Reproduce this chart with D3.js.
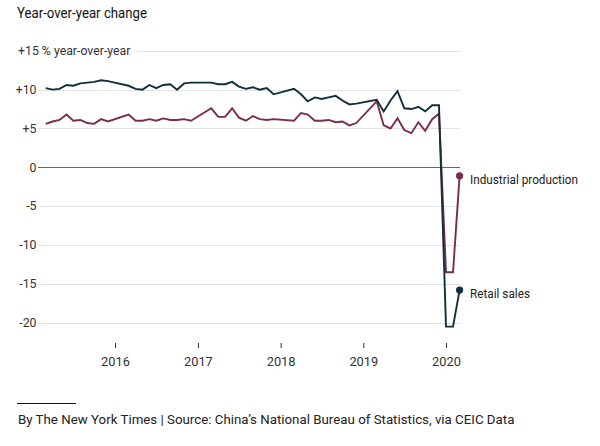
<!DOCTYPE html>
<html>
<head>
<meta charset="utf-8">
<script src="https://cdn.jsdelivr.net/npm/d3@7"></script>
<style>
  html, body { margin: 0; padding: 0; background: #fff; }
  svg { display: block; font-family: Roboto, "Liberation Sans", sans-serif; }
</style>
</head>
<body>
<svg id="chart" width="600" height="446"></svg>
<script>
// ---- Data (monthly, year-over-year %) ----
const months = [
  "2015-03","2015-04","2015-05","2015-06","2015-07","2015-08","2015-09","2015-10","2015-11","2015-12",
  "2016-03","2016-04","2016-05","2016-06","2016-07","2016-08","2016-09","2016-10","2016-11","2016-12",
  "2017-03","2017-04","2017-05","2017-06","2017-07","2017-08","2017-09","2017-10","2017-11","2017-12",
  "2018-03","2018-04","2018-05","2018-06","2018-07","2018-08","2018-09","2018-10","2018-11","2018-12",
  "2019-03","2019-04","2019-05","2019-06","2019-07","2019-08","2019-09","2019-10","2019-11","2019-12",
  "2020-01","2020-02","2020-03"
];
const retailSales = [
  10.2,10.0,10.1,10.6,10.5,10.8,10.9,11.0,11.2,11.1,
  10.5,10.1,10.0,10.6,10.2,10.6,10.7,10.0,10.8,10.9,
  10.9,10.7,10.7,11.0,10.4,10.1,10.3,10.0,10.2,9.4,
  10.1,9.4,8.5,9.0,8.8,9.0,9.2,8.6,8.1,8.2,
  8.7,7.2,8.6,9.8,7.6,7.5,7.8,7.2,8.0,8.0,
  -20.5,-20.5,-15.8
];
const industrialProduction = [
  5.6,5.9,6.1,6.8,6.0,6.1,5.7,5.6,6.2,5.9,
  6.8,6.0,6.0,6.2,6.0,6.3,6.1,6.1,6.2,6.0,
  7.6,6.5,6.5,7.6,6.4,6.0,6.6,6.2,6.1,6.2,
  6.0,7.0,6.8,6.0,6.0,6.1,5.8,5.9,5.4,5.7,
  8.5,5.4,5.0,6.3,4.8,4.4,5.8,4.7,6.2,6.9,
  -13.5,-13.5,-1.1
];
const yTicks = [15, 10, 5, 0, -5, -10, -15, -20];
const yTickLabels = ["+15", "+10", "+5", "0", "-5", "-10", "-15", "-20"];
const xTickYears = [2016, 2017, 2018, 2019, 2020];
const seriesNames = ["Industrial production", "Retail sales"];
const titleText = "Year-over-year change";
const yUnitText = " % year-over-year";
const sourceText = "By The New York Times | Source: China\u2019s National Bureau of Statistics, via CEIC Data";

// ---- Setup ----
const svg = d3.select("#chart");
const parse = d3.timeParse("%Y-%m");
const dates = months.map(parse);

const x = d3.scaleTime()
  .domain([new Date(2016, 0, 1), new Date(2020, 0, 1)])
  .range([115, 446]);
const y = d3.scaleLinear().domain([-20, 15]).range([322.7, 50.8]);

const gridLeft = 38, gridRight = 460;
const colors = { ip: "#7b2b4f", retail: "#112e3b" };

// squeeze text horizontally to a target width if wider (mimics condensed face)
function fitWidth(sel, target) {
  const w = sel.node().getComputedTextLength();
  if (w > target) sel.attr("textLength", target).attr("lengthAdjust", "spacingAndGlyphs");
  else if (w > 0) sel.attr("font-size", (parseFloat(sel.attr("font-size")) * target / w).toFixed(2));
}

// Title
const title = svg.append("text")
  .attr("x", 17).attr("y", 18)
  .attr("font-size", 14.5).attr("fill", "#121212")
  .text(titleText);
fitWidth(title, 130);

// Gridlines
const grid = svg.append("g");
yTicks.forEach((t, i) => {
  if (t === 0) return;
  grid.append("line")
    .attr("x1", t === 15 ? 137 : gridLeft).attr("x2", gridRight)
    .attr("y1", Math.round(y(t)) + 0.5).attr("y2", Math.round(y(t)) + 0.5)
    .attr("stroke", "#e2e2e2").attr("stroke-width", 1);
});

// Y labels (right-aligned numbers)
const yl = svg.append("g").attr("font-size", 12.3).attr("fill", "#333");
yTicks.forEach((t, i) => {
  const txt = yl.append("text")
    .attr("x", 36.5).attr("y", y(t)).attr("dy", "0.35em")
    .attr("text-anchor", "end")
    .text(yTickLabels[i]);
  if (t === 15) {
    txt.attr("text-anchor", "start").attr("x", 18).text(yTickLabels[i] + yUnitText);
  }
});

// Zero line
svg.append("line")
  .attr("x1", gridLeft).attr("x2", gridRight)
  .attr("y1", Math.round(y(0)) + 0.5).attr("y2", Math.round(y(0)) + 0.5)
  .attr("stroke", "#666").attr("stroke-width", 1);

// X axis
const xAxis = d3.axisBottom(x)
  .tickValues(xTickYears.map(yr => new Date(yr, 0, 1)))
  .tickFormat(d3.timeFormat("%Y"))
  .tickSize(5).tickSizeOuter(0).tickPadding(9);
const gx = svg.append("g").attr("transform", "translate(0,343)").call(xAxis);
gx.select(".domain").remove();
gx.selectAll(".tick line").attr("stroke", "#333");
gx.selectAll(".tick text").attr("font-size", 12.8).attr("fill", "#333")
  .attr("font-family", "Roboto, sans-serif");

// Lines
const line = d3.line().x((d, i) => x(dates[i])).y(d => y(d));
svg.append("path").datum(industrialProduction)
  .attr("fill", "none").attr("stroke", colors.ip).attr("stroke-width", 1.9)
  .attr("stroke-linejoin", "miter").attr("d", line);
svg.append("path").datum(retailSales)
  .attr("fill", "none").attr("stroke", colors.retail).attr("stroke-width", 1.9)
  .attr("stroke-linejoin", "miter").attr("d", line);

// End dots and labels
const last = months.length - 1;
const labelWidths = [108, 60];
[[industrialProduction, colors.ip, seriesNames[0]], [retailSales, colors.retail, seriesNames[1]]]
  .forEach(([vals, col, name], k) => {
    svg.append("circle")
      .attr("cx", x(dates[last])).attr("cy", y(vals[last])).attr("r", 3.6)
      .attr("fill", col);
    const lab = svg.append("text")
      .attr("x", 470).attr("y", y(vals[last]) + 8)
      .attr("font-size", 13.2).attr("fill", "#222")
      .text(name);
    fitWidth(lab, labelWidths[k]);
  });

// Footer
svg.append("line")
  .attr("x1", 17).attr("x2", 76).attr("y1", 403.5).attr("y2", 403.5)
  .attr("stroke", "#121212").attr("stroke-width", 1);
const src = svg.append("text")
  .attr("x", 18).attr("y", 424)
  .attr("font-size", 13).attr("fill", "#222")
  .text(sourceText);
fitWidth(src, 497);
</script>
</body>
</html>
